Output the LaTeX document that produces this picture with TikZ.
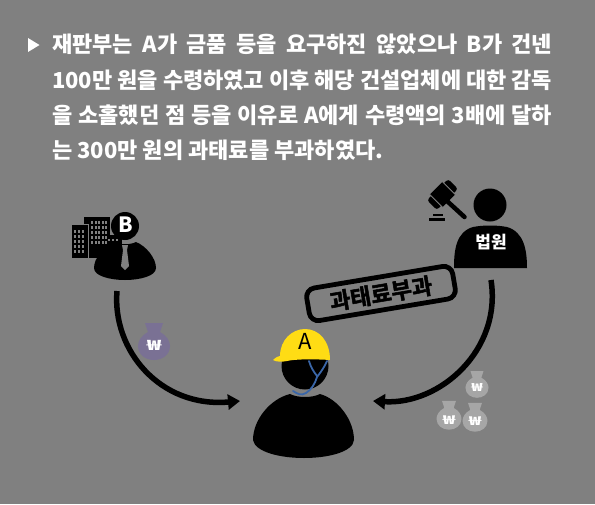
\documentclass[tikz,border=0pt]{standalone}
\usepackage{fontspec}
\usetikzlibrary{arrows.meta}
\newfontfamily\kr{Noto Sans CJK KR}
\newfontfamily\krb[FakeBold=2.2]{Noto Sans CJK KR Bold}
\definecolor{bgc}{HTML}{808080}
\definecolor{hat}{HTML}{FFDC14}
\definecolor{strap}{HTML}{3A66A8}
\definecolor{bagp}{HTML}{7A7194}
\definecolor{bagg}{HTML}{A6A6A6}
\tikzset{
 para/.style={anchor=west,inner sep=0,text=white,font=\kr\bfseries\fontsize{22}{24}\selectfont},
 flow/.style={line width=5.5pt,-{Triangle[length=12pt,width=15pt]}},
 won/.style={text=white,inner sep=0,font=\kr\bfseries\fontsize{#1}{#1}\selectfont},
}
\newcommand{\wonsign}{\scalebox{1.7}[1]{₩}}
\newcommand{\bag}[4]{% x y scale colour
 \begin{scope}[shift={(#1,#2)},scale=#3]
 \fill[#4] (-9,-22) -- (9,-22) -- (6,-13) .. controls (13,-9) and (16,-4) .. (16,1) .. controls (16,10) and (8,15) .. (0,15) .. controls (-8,15) and (-16,10) .. (-16,1) .. controls (-16,-4) and (-13,-9) .. (-6,-13) -- cycle;
 \end{scope}
}
\begin{document}
\begin{tikzpicture}[x=1pt,y=-1pt]
\fill[bgc] (0,0) rectangle (595,504);
\useasboundingbox (0,0) rectangle (595,504);
% paragraph
\fill[white] (28,38) -- (39.5,45) -- (28,52) -- cycle;
\node[para] (l1) at (52,44) {\makebox[500pt][s]{재판부는 A가 금품 등을 요구하진 않았으나 B가 건넨}};
\node[para] (l2) at (52,80) {\makebox[500pt][s]{100만 원을 수령하였고 이후 해당 건설업체에 대한 감독}};
\node[para] (l3) at (52,115) {\makebox[500pt][s]{을 소홀했던 점 등을 이유로 A에게 수령액의 3배에 달하}};
\node[para] (l4) at (52,150) {는 300만 원의 과태료를 부과하였다.};
% buildings
\fill[black] (84,217) rectangle (110,258);
\fill[black] (71,224) rectangle (88,258);
\fill[black] (105,235) rectangle (122,252);
\draw[bgc,line width=.6pt] (71,224) rectangle (88,258);
\foreach \yy in {230,235,...,250} \foreach \xx in {74,78,82} \fill[bgc] (\xx,\yy) rectangle +(2,2.5);
\foreach \yy in {221,226,...,241} \foreach \xx in {91,94.5,98,101.5,105} \fill[bgc] (\xx,\yy) rectangle +(2,2.5);
\foreach \xx in {108,112,116} \fill[bgc] (\xx,239) rectangle +(2,2);
% B person
\fill[black] (125,226) circle (14);
\node[inner sep=0,text=white,font=\kr\bfseries\fontsize{21}{21}\selectfont] (bl) at (126,225) {B};
\fill[black] (114,242) .. controls (104,246) and (94,258) .. (94,268) .. controls (94,276) and (110,280) .. (125,280) .. controls (140,280) and (156,276) .. (156,268) .. controls (156,258) and (146,246) .. (136,242) .. controls (130,245) and (120,245) .. (114,242) -- cycle;
\fill[bgc] (122,245) -- (128,245) -- (127,250) -- (129,266) -- (125,270) -- (121,266) -- (123,250) -- cycle;
% arrow B->A
\coordinate (bs) at (117,291);
\coordinate (be) at (240,401);
\draw[flow] (bs) .. controls (112,350) and (160,408) .. (be);
\bag{154}{345}{1}{bagp}
\node[won={14}] (w1) at (154,345) {\wonsign};
% A person
\fill[black] (305,366) circle (23.5);
\fill[black] (290,394) .. controls (270,399) and (253,420) .. (253,440) .. controls (255,452) and (280,458) .. (304,458) .. controls (328,458) and (353,452) .. (354,440) .. controls (354,420) and (338,399) .. (320,394) .. controls (312,398) and (298,398) .. (290,394) -- cycle;
\draw[strap,line width=1.8pt,line cap=round] (309,361) .. controls (311,368) and (314,372) .. (317,376) (327,361) .. controls (324,368) and (320,373) .. (317,377) .. controls (315,384) and (311,390) .. (306,393) .. controls (301,396) and (298,394) .. (293,391);
\fill[hat] (273,360) .. controls (276,357) and (279,356) .. (280,356) .. controls (280,340) and (292,329) .. (305,329) .. controls (319,329) and (330,341) .. (330,360) .. controls (315,359) and (295,359) .. (287,361) .. controls (282,362) and (276,362) .. (273,360) -- cycle;
\node[inner sep=0,text=black,font=\kr\fontsize{22}{22}\selectfont] (al) at (305,341) {A};
% court person
\fill[black] (490,205) circle (16.5);
\fill[black] (454,268) .. controls (454,250) and (456,232) .. (473,227) .. controls (483,225) and (497,225) .. (507,227) .. controls (524,232) and (527,250) .. (527,268) -- cycle;
\node[inner sep=0,text=white,font=\kr\bfseries\fontsize{17}{17}\selectfont] (ct) at (491,242) {법원};
% gavel
\draw[black,line width=4.5pt,line cap=round] (447,201) -- (464.5,217);
\begin{scope}[shift={(442.5,194.5)},rotate=45]
 \fill[black,rounded corners=3pt] (-15,-7) rectangle (15,7);
 \fill[black] (-9,-9) rectangle (9,9);
 \draw[bgc,line width=.8pt] (-9,-9) -- (-9,9) (9,-9) -- (9,9);
\end{scope}
\fill[black] (433,214) rectangle (443,216);
\fill[black] (429,218) rectangle (445,220.5);
% arrow court->A
\coordinate (cs) at (491,280);
\coordinate (ce) at (373,401);
\draw[flow] (cs) .. controls (502,350) and (440,405) .. (ce);
% label
\node[draw=black,line width=4.8pt,rounded corners=9pt,rotate=9.5,minimum width=148pt,minimum height=33pt,inner sep=0,text=black,font=\krb\fontsize{22.5}{22.5}\selectfont] (fine) at (381,293.5) {과태료부과};
% grey bags
\bag{477}{387}{.72}{bagg}
\bag{449}{418}{.78}{bagg}
\bag{475}{420}{.78}{bagg}
\node[won={11}] (w2) at (477,388) {\wonsign};
\node[won={12}] (w3) at (449,420) {\wonsign};
\node[won={12}] (w4) at (475,421) {\wonsign};
\end{tikzpicture}
\end{document}
